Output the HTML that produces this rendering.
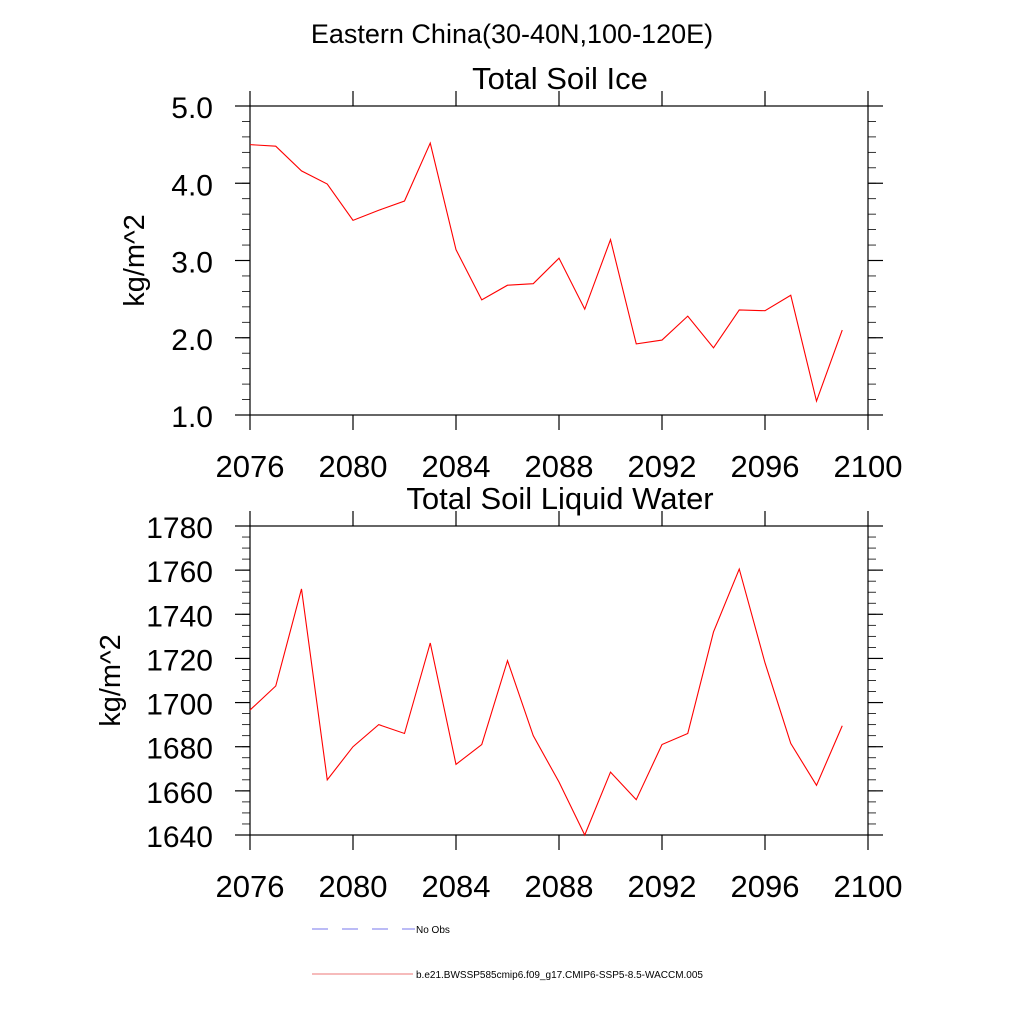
<!DOCTYPE html>
<html><head><meta charset="utf-8">
<style>
body{margin:0;background:#fff;}
svg text{font-family:"Liberation Sans",sans-serif;fill:#000;}
</style></head>
<body>
<svg id="chart" width="1024" height="1024" xmlns="http://www.w3.org/2000/svg">
<text x="512" y="43" font-size="27" text-anchor="middle">Eastern China(30-40N,100-120E)</text>
<g id="p1"></g>
<g id="p2"></g>
<g>
<line x1="312" y1="929" x2="415" y2="929" stroke="#7777ee" stroke-width="1" stroke-dasharray="16,14"/>
<text x="416" y="933" font-size="10">No Obs</text>
<line x1="312" y1="974" x2="413" y2="974" stroke="#ee7777" stroke-width="1"/>
<text x="416" y="978" font-size="10">b.e21.BWSSP585cmip6.f09_g17.CMIP6-SSP5-8.5-WACCM.005</text>
</g>
</svg>
<script>
const years=[2076,2077,2078,2079,2080,2081,2082,2083,2084,2085,2086,2087,2088,2089,2090,2091,2092,2093,2094,2095,2096,2097,2098,2099];
const iceValues=[4.50,4.48,4.16,3.99,3.52,3.65,3.77,4.52,3.14,2.49,2.68,2.70,3.03,2.37,3.27,1.92,1.97,2.28,1.87,2.36,2.35,2.55,1.18,2.10];
const liquidValues=[1696.6,1707.5,1751.5,1665,1680,1690,1686,1727,1672,1681,1719,1685,1664,1640,1668.5,1656,1681,1686,1732,1760.5,1718,1681.5,1662.5,1689.5];
const xTicks=[2076,2080,2084,2088,2092,2096,2100];
const iceTicks=[1.0,2.0,3.0,4.0,5.0];
const liquidTicks=[1640,1660,1680,1700,1720,1740,1760,1780];

const NS="http://www.w3.org/2000/svg";
function mk(parent,tag,attrs){const e=document.createElementNS(NS,tag);for(const k in attrs)e.setAttribute(k,attrs[k]);parent.appendChild(e);return e;}
const X0=250,X1=868;
function xs(v){return X0+(v-2076)/(2100-2076)*(X1-X0);}

function panel(g,top,bot,ymin,ymax,yticks,minorStep,vals,title,fmt,name){
  const ys=v=>bot-(v-ymin)/(ymax-ymin)*(bot-top);
  const t=mk(g,'text',{x:560,y:top-17,'font-size':31,'text-anchor':'middle'});t.textContent=title;
  
  
  const r=mk(g,'rect',{x:X0,y:top,width:X1-X0,height:bot-top,fill:'none',stroke:'#000','stroke-width':1.2});
  
  
  xTicks.forEach(v=>{const x=xs(v);
    mk(g,'line',{x1:x,y1:top,x2:x,y2:top-15,stroke:'#000','stroke-width':1.2});
    mk(g,'line',{x1:x,y1:bot,x2:x,y2:bot+15,stroke:'#000','stroke-width':1.2});
    const l=mk(g,'text',{x:x,y:bot+62,'font-size':31,'text-anchor':'middle'});l.textContent=v;
    
    
  });
  for(let v=ymin;v<=ymax+1e-9;v+=minorStep){const y=ys(v);
    mk(g,'line',{x1:X0,y1:y,x2:X0-8,y2:y,stroke:'#000','stroke-width':0.8});
    mk(g,'line',{x1:X1,y1:y,x2:X1+8,y2:y,stroke:'#000','stroke-width':0.8});}
  yticks.forEach(v=>{const y=ys(v);
    mk(g,'line',{x1:X0,y1:y,x2:X0-15,y2:y,stroke:'#000','stroke-width':1.2});
    mk(g,'line',{x1:X1,y1:y,x2:X1+15,y2:y,stroke:'#000','stroke-width':1.2});
    const l=mk(g,'text',{x:213,y:y+12,'font-size':30,'text-anchor':'end'});l.textContent=fmt(v);
    
    
  });
  const cy=(top+bot)/2;
  const ya=mk(g,'text',{x:0,y:0,'font-size':29,'text-anchor':'middle',transform:`translate(${name==='ice'?144:120},${cy}) rotate(-90)`});ya.textContent='kg/m^2';
  
  
  const pts=years.map((yr,i)=>xs(yr)+','+ys(vals[i])).join(' ');
  const pl=mk(g,'polyline',{points:pts,fill:'none',stroke:'#ff0000','stroke-width':1.1});
  
  
}
panel(document.getElementById('p1'),106,415,1,5,iceTicks,0.2,iceValues,'Total Soil Ice',v=>v.toFixed(1),'ice');
panel(document.getElementById('p2'),526,835,1640,1780,liquidTicks,5,liquidValues,'Total Soil Liquid Water',v=>String(v),'liquid');
</script>
</body></html>
